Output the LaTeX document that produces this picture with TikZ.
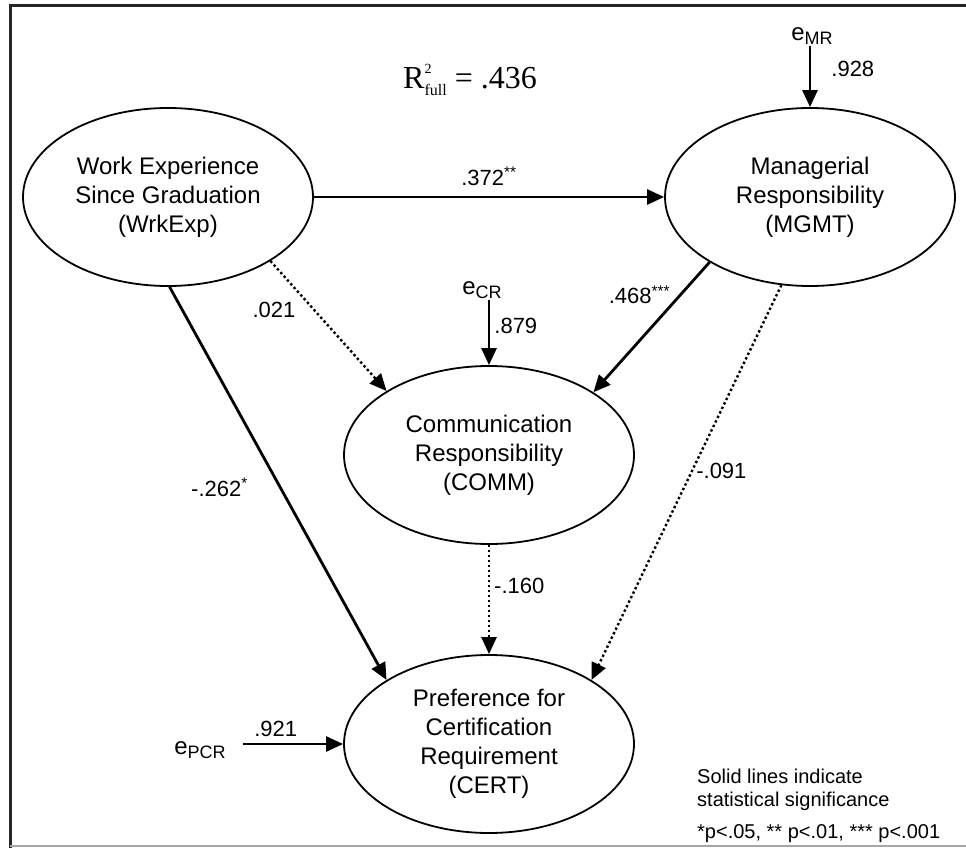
\documentclass[tikz,border=0pt]{standalone}
\usepackage{fontspec}
\setmainfont{Liberation Sans}
\newfontfamily\serifrm{Liberation Serif}
\usetikzlibrary{arrows.meta,positioning,shapes.geometric}

\newcommand{\errterm}[1]{e\raisebox{-0.35ex}{\fontsize{18}{18}\selectfont #1}}
\newcommand{\rsqfull}{R\rlap{\raisebox{15pt}{\fontsize{14}{14}\selectfont 2}}\raisebox{-7pt}{\fontsize{16}{16}\selectfont full}}

\begin{document}
\begin{tikzpicture}[x=1pt,y=-1pt,>={Triangle[length=17pt,width=15pt]},
    construct/.style={ellipse,draw,line width=1.8pt,minimum width=290pt,minimum height=178pt,
      inner sep=0pt,align=center,font=\fontsize{24}{29}\selectfont},
    errnode/.style={inner sep=1pt,font=\fontsize{24}{24}\selectfont},
    coef/.style={inner sep=2pt,font=\fontsize{22}{24}\selectfont},
    sig/.style={->,line width=2.8pt},
    nonsig/.style={->,line width=2.4pt,dash pattern=on 2.4pt off 2.6pt}]

    \useasboundingbox (0,0) rectangle (966,848);
    % frame
    \draw[line width=3pt,black!85] (10,848) -- (10,6) -- (966,6);
    \draw[line width=1.5pt,black!35] (10,846) -- (966,846);

    \node[construct] (wrk) at (168,197) {Work Experience\\Since Graduation\\(WrkExp)};
    \node[construct] (mgmt) at (810,197) {Managerial\\Responsibility\\(MGMT)};
    \node[construct] (comm) at (489,455) {Communication\\Responsibility\\(COMM)};
    \node[construct] (cert) at (489,744) {Preference for\\Certification\\Requirement\\(CERT)};

    \node[errnode] (emr) at (812,36) {\errterm{MR}};
    \node[errnode] (ecr) at (482,290) {\errterm{CR}};
    \node[errnode] (epcr) at (200,750) {\errterm{PCR}};

    \node[font=\serifrm\fontsize{32}{32}\selectfont] (rsq) at (470,80) {\rsqfull\ = .436};

    \node[anchor=north west,align=left,inner sep=0pt,font=\fontsize{20}{23}\selectfont] (note) at (697,769)
        {Solid lines indicate\\statistical significance\\[9pt]*p<.05, ** p<.01, *** p<.001};

    % paths
    \path[sig] (wrk.east) edge node[coef,above=8pt] {.372\textsuperscript{**}} (mgmt.west);
    \path[sig] (emr.south -| mgmt.north) edge node[coef,pos=0.37,right=18pt] {.928} (mgmt.north);
    \path[sig] (ecr.south -| comm.north) edge node[coef,pos=0.4,right=2pt] {.879} (comm.north);
    \path[sig] (mgmt.-147) edge node[coef,pos=0.25,left=7pt] {.468\textsuperscript{***}} (comm.31);
    \path[nonsig] (wrk.-32) edge node[coef,pos=0.38,left=16pt] {.021} (comm.148);
    \path[sig] (wrk.-89) edge node[coef,pos=0.51,left=29pt] {-.262\textsuperscript{*}} (cert.148);
    \path[nonsig] (comm.south) edge node[coef,pos=0.38,right=2pt] {-.160} (cert.north);
    \path[nonsig] (mgmt.-108) edge node[coef,pos=0.47,right=1pt] {-.091} (cert.32);
    \path[sig,shorten <=16pt] (epcr.east |- cert.west) edge node[coef,pos=0.42,above=4pt] {.921} (cert.west);

\end{tikzpicture}
\end{document}
